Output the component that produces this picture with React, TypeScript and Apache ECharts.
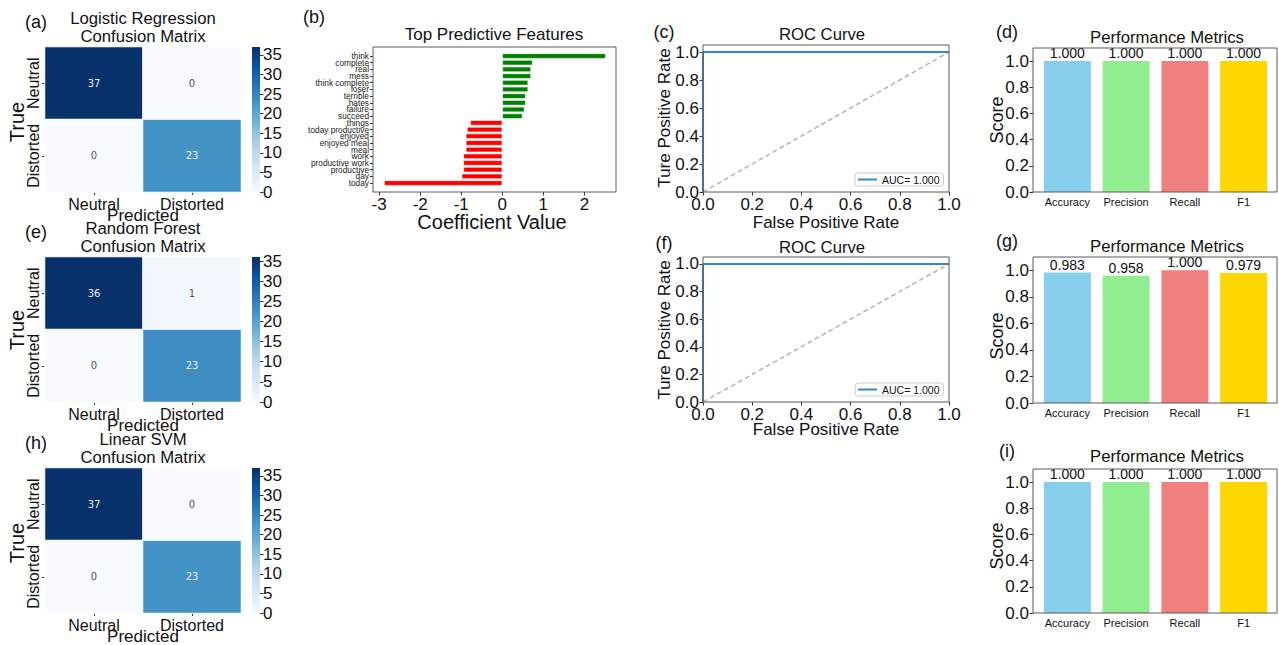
import React, { useEffect, useRef } from "react";
import * as echarts from "echarts";

// ---------- DATA ----------
const cmClasses = ["Neutral", "Distorted"];
const cmLogistic = [
  [37, 0],
  [0, 23],
];
const cmForest = [
  [36, 1],
  [0, 23],
];
const cmSvm = [
  [37, 0],
  [0, 23],
];
const colorbarTicks = [0, 5, 10, 15, 20, 25, 30, 35];

const featureNames = [
  "think", "complete", "real", "mess", "think complete", "loser", "terrible", "hates", "failure", "succeed",
  "things", "today productive", "enjoyed", "enjoyed meal", "meal", "work", "productive work", "productive", "day", "today",
];
const featureCoefs = [
  2.52, 0.74, 0.7, 0.7, 0.63, 0.63, 0.57, 0.57, 0.54, 0.49,
  -0.78, -0.86, -0.89, -0.89, -0.89, -0.95, -0.95, -0.95, -0.99, -2.88,
];
const coefTicks = [-3, -2, -1, 0, 1, 2];

const rocFpr = [0, 0, 1];
const rocTpr = [0, 1, 1];
const chanceLine = [0, 1];
const aucLogistic = "AUC= 1.000";
const aucForest = "AUC= 1.000";
const rocTicks = [0, 0.2, 0.4, 0.6, 0.8, 1.0];

const metricNames = ["Accuracy", "Precision", "Recall", "F1"];
const metricsLogistic = [1.0, 1.0, 1.0, 1.0];
const metricsForest = [0.983, 0.958, 1.0, 0.979];
const metricsSvm = [1.0, 1.0, 1.0, 1.0];
const metricColors = ["#87ceeb", "#90ee90", "#f08080", "#ffd700"];
const scoreTicks = [0, 0.2, 0.4, 0.6, 0.8, 1.0];

const BLUES = ["#f7fbff", "#deebf7", "#c6dbef", "#9ecae1", "#6baed6", "#4292c6", "#2171b5", "#08519c", "#08306b"];

const FONT = "'Liberation Sans', Arial, Helvetica, sans-serif";
const FRAME = "#5a5a5a";
const TITLE = 16.7;

function buildOption() {
  const grid: any[] = [];
  const xAxis: any[] = [];
  const yAxis: any[] = [];
  const series: any[] = [];
  const visualMap: any[] = [];
  const legend: any[] = [];
  const graphic: any[] = [];

  const text = (t: string, x: number, y: number, size: number, rot = 0, extra: any = {}) => {
    graphic.push({
      type: "text",
      x,
      y,
      rotation: rot,
      z: 100,
      style: {
        text: t,
        fontSize: size,
        fontFamily: FONT,
        fill: "#111",
        align: "center",
        verticalAlign: "middle",
        ...extra,
      },
    });
  };
  const frame = (x: number, y: number, w: number, h: number) => {
    graphic.push({
      type: "rect",
      z: 100,
      shape: { x, y, width: w, height: h },
      style: { fill: "none", stroke: FRAME, lineWidth: 1 },
    });
  };

  // ---------- Confusion matrices ----------
  const addHeatmap = (matrix: number[][], top: number, titles: string[], label: string, trueY: number) => {
    const vmax = Math.max(...matrix.flat());
    const gi = grid.length;
    grid.push({ left: 45, top, width: 196, height: 145 });
    xAxis.push({
      type: "category",
      gridIndex: gi,
      data: cmClasses,
      axisLine: { show: false },
      axisTick: { show: true, alignWithLabel: true, interval: 0, length: 3, lineStyle: { color: "#333" } },
      axisLabel: { fontSize: 16, color: "#111", margin: 4, interval: 0, fontFamily: FONT },
      splitLine: { show: false },
    });
    yAxis.push({
      type: "category",
      gridIndex: gi,
      data: cmClasses,
      inverse: true,
      axisLine: { show: false },
      axisTick: { show: true, alignWithLabel: true, interval: 0, length: 3, lineStyle: { color: "#333" } },
      axisLabel: { fontSize: 16, color: "#111", margin: 4, rotate: 90, interval: 0, hideOverlap: false, fontFamily: FONT },
      splitLine: { show: false },
    });
    const si = series.length;
    series.push({
      type: "heatmap",
      xAxisIndex: xAxis.length - 1,
      yAxisIndex: yAxis.length - 1,
      data: matrix.flatMap((row, i) =>
        row.map((v, j) => ({
          value: [j, i, v],
          label: { color: v > vmax * 0.5 ? "#e8eef5" : "#555" },
        }))
      ),
      label: { show: true, fontSize: 10, fontFamily: "'DejaVu Sans', sans-serif" },
      itemStyle: { borderColor: "#fff", borderWidth: 1 },
    });
    visualMap.push({
      type: "continuous",
      show: false,
      min: 0,
      max: vmax,
      seriesIndex: si,
      inRange: { color: BLUES },
    });
    // colorbar
    const ci = grid.length;
    grid.push({ left: 252, top, width: 8, height: 145 });
    xAxis.push({ type: "category", gridIndex: ci, data: [""], show: false });
    yAxis.push({
      type: "value",
      gridIndex: ci,
      position: "right",
      min: 0,
      max: vmax,
      axisLine: { show: false },
      splitLine: { show: false },
      axisTick: { show: true, length: 3.5, customValues: colorbarTicks, lineStyle: { color: "#333" } },
      axisLabel: { customValues: colorbarTicks, fontSize: 17, color: "#111", margin: 3, fontFamily: FONT },
    });
    series.push({
      type: "bar",
      xAxisIndex: xAxis.length - 1,
      yAxisIndex: yAxis.length - 1,
      data: [vmax],
      barWidth: "100%",
      silent: true,
      itemStyle: {
        color: new echarts.graphic.LinearGradient(
          0, 1, 0, 0,
          BLUES.map((c, k) => ({ offset: k / (BLUES.length - 1), color: c }))
        ),
      },
    });
    text(titles[0], 143, top - 29, TITLE);
    text(titles[1], 143, top - 11, TITLE);
    text(label, 36, top - 25, 18);
    text("True", 17, trueY, 20, Math.PI / 2);
    text("Predicted", 143, top + 168, 17);
  };

  addHeatmap(cmLogistic, 47, ["Logistic Regression", "Confusion Matrix"], "(a)", 122);
  addHeatmap(cmForest, 257, ["Random Forest", "Confusion Matrix"], "(e)", 330);
  addHeatmap(cmSvm, 468, ["Linear SVM", "Confusion Matrix"], "(h)", 543);

  // ---------- Top predictive features ----------
  {
    const gi = grid.length;
    grid.push({ left: 373, top: 52.66, width: 243, height: 133.7 });
    xAxis.push({
      type: "value",
      gridIndex: gi,
      min: -3.15,
      max: 2.77,
      offset: 5.6,
      axisLine: { show: false, onZero: false },
      splitLine: { show: false },
      axisTick: { show: true, length: 3.5, customValues: coefTicks, lineStyle: { color: "#333" } },
      axisLabel: { customValues: coefTicks, fontSize: 17, color: "#111", margin: 4, fontFamily: FONT },
    });
    yAxis.push({
      type: "category",
      gridIndex: gi,
      data: featureNames,
      inverse: true,
      axisLine: { show: false, onZero: false },
      axisTick: { show: true, alignWithLabel: true, interval: 0, length: 3, lineStyle: { color: "#333" } },
      axisLabel: {
        fontSize: 8.3,
        lineHeight: 6.6,
        color: "#222",
        margin: 4,
        interval: 0,
        hideOverlap: false,
        fontFamily: FONT,
      },
      splitLine: { show: false },
    });
    series.push({
      type: "bar",
      xAxisIndex: xAxis.length - 1,
      yAxisIndex: yAxis.length - 1,
      barCategoryGap: "20%",
      data: featureCoefs.map((v) => ({
        value: v,
        itemStyle: { color: v >= 0 ? "#008000" : "#ff0000" },
      })),
      itemStyle: { borderColor: "#ffffff", borderWidth: 0.6 },
    });
    frame(373, 47, 243, 145);
    text("Top Predictive Features", 494, 34, 17);
    text("Coefficient Value", 492, 222, 20);
    text("(b)", 314, 17, 18);
  }

  // ---------- ROC curves ----------
  const addRoc = (top: number, height: number, auc: string, label: string, titleY: number, labelY: number, nameY: number, xNameY: number) => {
    const gi = grid.length;
    grid.push({ left: 703, top, width: 246, height });
    xAxis.push({
      type: "value",
      gridIndex: gi,
      min: 0,
      max: 1,
      axisLine: { show: false, onZero: false },
      splitLine: { show: false },
      axisTick: { show: true, length: 3.5, customValues: rocTicks, lineStyle: { color: "#333" } },
      axisLabel: {
        customValues: rocTicks,
        formatter: (v: number) => v.toFixed(1),
        fontSize: 17,
        color: "#111",
        margin: 4,
        fontFamily: FONT,
      },
    });
    yAxis.push({
      type: "value",
      gridIndex: gi,
      min: 0,
      max: 1.05,
      axisLine: { show: false, onZero: false },
      splitLine: { show: false },
      axisTick: { show: true, length: 3.5, customValues: rocTicks, lineStyle: { color: "#333" } },
      axisLabel: {
        customValues: rocTicks,
        formatter: (v: number) => v.toFixed(1),
        fontSize: 17,
        color: "#111",
        margin: 4,
        fontFamily: FONT,
      },
    });
    series.push({
      type: "line",
      name: "Chance",
      xAxisIndex: xAxis.length - 1,
      yAxisIndex: yAxis.length - 1,
      data: chanceLine.map((v) => [v, v]),
      symbol: "none",
      lineStyle: { color: "#b5b5b5", width: 1.5, type: [5, 3] },
    });
    series.push({
      type: "line",
      name: auc,
      xAxisIndex: xAxis.length - 1,
      yAxisIndex: yAxis.length - 1,
      data: rocFpr.map((f, k) => [f, rocTpr[k]]),
      symbol: "none",
      color: "#3a86c4",
      lineStyle: { color: "#3a86c4", width: 2 },
      clip: false,
    });
    legend.push({
      data: [{ name: auc, icon: "rect" }],
      left: 855,
      top: top + height - 19,
      itemWidth: 19,
      itemHeight: 2,
      padding: [1, 4, 1, 3],
      backgroundColor: "#fff",
      borderColor: "#cccccc",
      borderWidth: 1,
      borderRadius: 3,
      selectedMode: false,
      textStyle: { fontSize: 10.5, color: "#111", fontFamily: FONT },
    });
    frame(703, top, 246, height);
    text("ROC Curve", 822, titleY, TITLE);
    text(label, 664, labelY, 18);
    text("Ture Positive Rate", 664, nameY, 17, Math.PI / 2);
    text("False Positive Rate", 826, xNameY, 17);
  };
  addRoc(45, 147, aucLogistic, "(c)", 34, 32, 118, 222);
  addRoc(257, 145, aucForest, "(f)", 247, 243, 330, 429);

  // ---------- Performance metrics ----------
  const addPerf = (values: number[], top: number, height: number, label: string, titleY: number, scoreY: number) => {
    const gi = grid.length;
    grid.push({ left: 1038, top, width: 235, height });
    xAxis.push({
      type: "category",
      gridIndex: gi,
      data: metricNames,
      axisLine: { show: false },
      axisTick: { show: false },
      axisLabel: { fontSize: 11, color: "#111", margin: 4, interval: 0, fontFamily: FONT },
      splitLine: { show: false },
    });
    yAxis.push({
      type: "value",
      gridIndex: gi,
      min: 0,
      max: 1.1,
      offset: 5,
      axisLine: { show: false, onZero: false },
      splitLine: { show: false },
      axisTick: { show: true, length: 3.5, customValues: scoreTicks, lineStyle: { color: "#333" } },
      axisLabel: {
        customValues: scoreTicks,
        formatter: (v: number) => v.toFixed(1),
        fontSize: 17,
        color: "#111",
        margin: 4,
        fontFamily: FONT,
      },
    });
    series.push({
      type: "bar",
      xAxisIndex: xAxis.length - 1,
      yAxisIndex: yAxis.length - 1,
      barCategoryGap: "20%",
      data: values.map((v, k) => ({ value: v, itemStyle: { color: metricColors[k] } })),
      label: {
        show: true,
        position: "top",
        distance: 1,
        fontSize: 14,
        color: "#111",
        fontFamily: FONT,
        formatter: (p: any) => Number(p.value).toFixed(3),
      },
    });
    frame(1033, top, 244, height);
    text("Performance Metrics", 1167, titleY, TITLE);
    text(label, 1007, titleY - 5, 18);
    text("Score", 997, scoreY, 18, Math.PI / 2);
  };
  addPerf(metricsLogistic, 48, 144, "(d)", 37, 120);
  addPerf(metricsForest, 257, 146, "(g)", 246, 336);
  addPerf(metricsSvm, 469, 144, "(i)", 456, 546);

  return {
    animation: false,
    backgroundColor: "#ffffff",
    textStyle: { fontFamily: FONT },
    grid,
    xAxis,
    yAxis,
    series,
    visualMap,
    legend,
    graphic,
  };
}

export default function App() {
  const ref = useRef<HTMLDivElement>(null);
  useEffect(() => {
    document.body.style.margin = "0";
    if (!ref.current) return;
    const chart = echarts.init(ref.current, undefined, { renderer: "svg" });
    chart.setOption(buildOption());
    return () => chart.dispose();
  }, []);
  return (
    <div
      ref={ref}
      style={{ position: "fixed", left: 0, top: 0, width: 1279, height: 645, background: "#fff" }}
    />
  );
}
